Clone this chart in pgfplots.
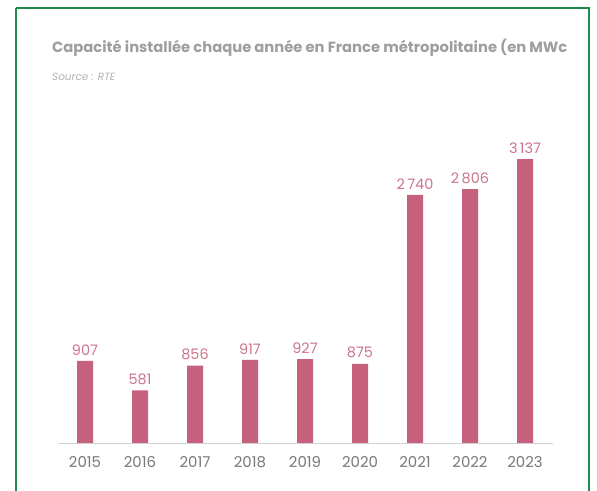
\documentclass[border=0pt]{standalone}
\usepackage{pgfplots}
\pgfplotsset{compat=1.18}
\usepackage{fontspec}
\setmainfont{Poppins}
\definecolor{barc}{RGB}{197,97,124}
\definecolor{labc}{RGB}{204,116,140}
\definecolor{framec}{RGB}{30,140,78}
\definecolor{titlec}{RGB}{158,158,158}
\definecolor{yearc}{RGB}{120,120,120}
\begin{document}
\begin{tikzpicture}[x=1bp,y=1bp]
\useasboundingbox (0,0) rectangle (597,491);
\begin{scope}
\clip (0,0) rectangle (597,491);
\draw[framec, line width=2.2bp] (16,483) -- (589,483) -- (589,-10);
\draw[framec, line width=2.2bp] (16,483) -- (16,-10);
\end{scope}
\node[anchor=base west, inner sep=0, text=titlec, font=\fontsize{14.8}{16}\selectfont\bfseries] at (52,438) {Capacité installée chaque année en France métropolitaine (en MWc};
\node[anchor=base west, inner sep=0, text=titlec!80, font=\fontsize{10.5}{12}\selectfont\itshape] at (52,410) {Source : RTE};
\begin{axis}[
  at={(85bp,48bp)}, anchor=origin,
  scale only axis, width=495bp, height=316.8bp,
  xmin=-0.5, xmax=8.5, ymin=0, ymax=3500,
  axis x line=bottom, axis y line=none,
  x axis line style={draw=black!18, line width=0.8bp, -},
  xtick=data, xticklabels={2015,2016,2017,2018,2019,2020,2021,2022,2023},
  xtick style={draw=none},
  xticklabel style={text=yearc, font=\fontsize{15}{17}\selectfont, yshift=-6bp},
  ybar, bar width=16bp,
  nodes near coords,
  every node near coord/.append style={text=labc, font=\fontsize{14.5}{16}\selectfont, yshift=2bp},
  /pgf/number format/assume math mode=true,
  /pgf/number format/1000 sep={\,},
  clip=false,
]
\addplot[draw=none, fill=barc] coordinates {(0,907) (1,581) (2,856) (3,917) (4,927) (5,875) (6,2740) (7,2806) (8,3137)};
\end{axis}
\end{tikzpicture}
\end{document}
